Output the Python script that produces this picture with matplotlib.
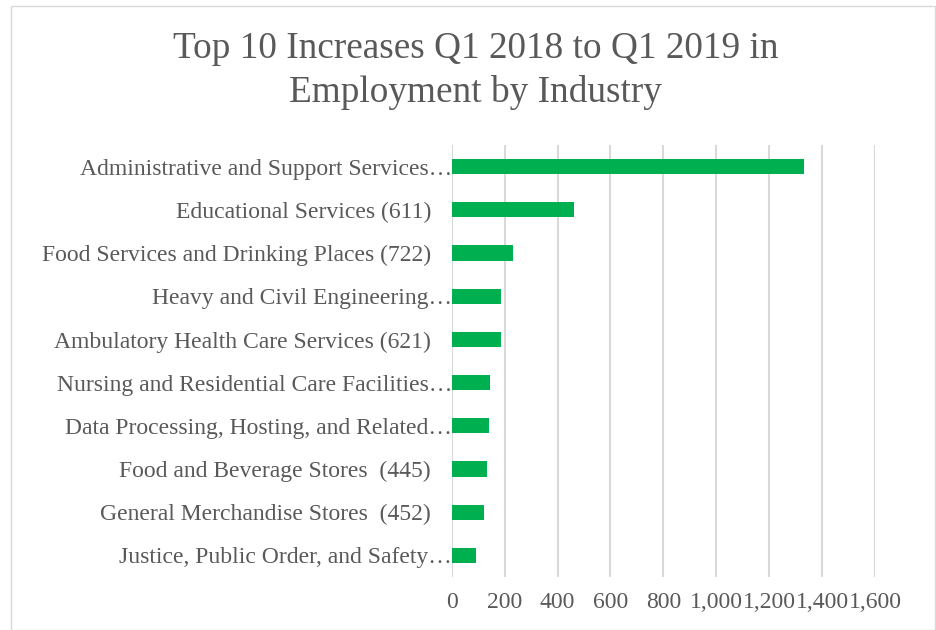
import matplotlib
matplotlib.use('Agg')
import matplotlib.pyplot as plt
import matplotlib.transforms as mtransforms
from matplotlib.patches import Rectangle
from matplotlib.ticker import FuncFormatter, MultipleLocator

plt.rcParams['font.family'] = ['Liberation Serif', 'DejaVu Serif']

# 数据 (从上到下)
industries = [
    'Administrative and Support Services…',
    'Educational Services (611)',
    'Food Services and Drinking Places (722)',
    'Heavy and Civil Engineering…',
    'Ambulatory Health Care Services (621)',
    'Nursing and Residential Care Facilities…',
    'Data Processing, Hosting, and Related…',
    'Food and Beverage Stores  (445)',
    'General Merchandise Stores  (452)',
    'Justice, Public Order, and Safety…',
]
increases = [1333, 462, 231, 188, 186, 146, 142, 135, 122, 93]

text_color = '#595959'
grid_color = '#D9D9D9'
bar_color = '#00B050'

fig = plt.figure(figsize=(9.36, 6.3), dpi=100)
ax = fig.add_axes([0.4826, 0.0841, 0.4522, 0.6857])

y = list(range(len(industries)))
ax.barh(y, increases, height=0.35, color=bar_color, zorder=3)
ax.set_yticks(y)
ax.set_yticklabels(industries)
ax.set_ylim(len(industries) - 0.5, -0.5)

ax.set_xlim(0, 1600)
ax.xaxis.set_major_locator(MultipleLocator(200))
ax.xaxis.set_major_formatter(FuncFormatter(lambda v, p: f'{int(v):,}'))
ax.grid(axis='x', color=grid_color, linewidth=1.5, zorder=0)
ax.grid(axis='y', visible=False)

for s in ax.spines.values():
    s.set_visible(False)
ax.tick_params(axis='both', length=0, labelsize=17, labelcolor=text_color)
ax.tick_params(axis='y', pad=15)
ax.tick_params(axis='x', pad=11)

# 截断的标签更靠近坐标轴 (Excel 的效果)
shift = mtransforms.ScaledTranslation(21 / 100, 0, fig.dpi_scale_trans)
for lab in ax.get_yticklabels():
    if lab.get_text().endswith('…'):
        lab.set_transform(lab.get_transform() + shift)

fig.text(0.508, 0.888, 'Top 10 Increases Q1 2018 to Q1 2019 in\nEmployment by Industry',
         ha='center', va='center', fontsize=26.8, color=text_color, linespacing=1.32)

# 外框
fig.patches.append(Rectangle((0.0115, 0.0), 0.987, 0.99, transform=fig.transFigure,
                             fill=False, edgecolor=grid_color, linewidth=1))

plt.savefig('out.png', dpi=100)
plt.close()
